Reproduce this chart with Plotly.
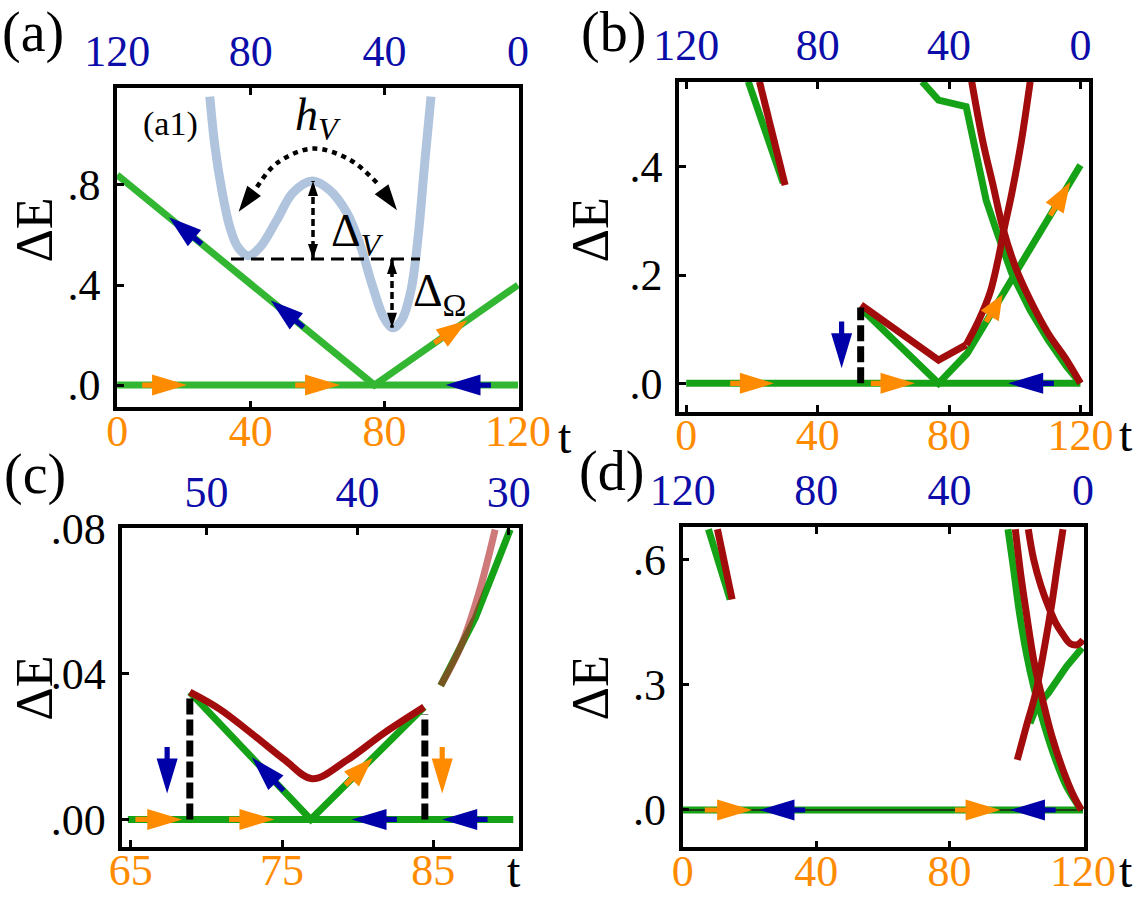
import numpy as np
import plotly.graph_objects as go

# ====================== DATA ======================
# ---- panel (a) ----
a_base_t = [0, 120]
a_base_E = [0, 0]
a_v_t = [0, 77, 120]
a_v_E = [0.84, 0.0, 0.40]

# inset (a1): schematic double-well potential (schematic units)
a1_q = [-1.29, -1.225, -1.14, -1.04, -0.94, -0.81, -0.66, -0.45, -0.25, -0.01, 0.21,
        0.425, 0.59, 0.74, 0.89, 1.0, 1.11, 1.225, 1.31, 1.4, 1.475]
a1_V = [2.03, 1.4, 0.86, 0.40, 0.15, 0.04, 0.15, 0.49, 0.83, 0.975, 0.86,
        0.575, 0.175, -0.325, -0.74, -0.86, -0.76, -0.39, 0.24, 1.24, 2.03]
a1_level_q = [-1.025, 1.3375]
a1_level_V = [0, 0]
a1_dV_q = [0, 0]
a1_dV_V = [0, 0.975]
a1_dO_q = [0.9875, 0.9875]
a1_dO_V = [0, -0.86]
a1_arc_q = [-0.93, -0.70, -0.45, 0.0, 0.46, 0.80, 1.05]
a1_arc_V = [0.59, 0.90, 1.20, 1.38, 1.24, 0.95, 0.61]

# ---- panel (b) ----
b_base_t = [0, 120]
b_base_E = [0, 0]
b_gV_t = [52.9, 76.8, 85.5, 120]
b_gV_E = [0.14, 0.0, 0.055, 0.403]
b_gL_t = [18.9, 29.5]
b_gL_E = [0.557, 0.37]
b_gR_t = [71.8, 76.8, 85.2, 88.0, 91.3, 94.7, 99.1, 104.7, 110.2, 115.8, 120]
b_gR_E = [0.557, 0.523, 0.511, 0.431, 0.338, 0.277, 0.203, 0.135, 0.080, 0.031, 0.0]
b_rL_t = [22.3, 30.1]
b_rL_E = [0.557, 0.366]
b_rV_t = [53.2, 76.8, 85.2]
b_rV_E = [0.145, 0.043, 0.071]
b_rUp_t = [85.2, 89.1, 92.4, 94.7, 96.9, 99.1, 101.9, 104.7]
b_rUp_E = [0.071, 0.117, 0.166, 0.222, 0.289, 0.351, 0.443, 0.557]
b_rR_t = [86.9, 90.2, 93.5, 96.3, 100.2, 104.7, 110.2, 115.8, 120]
b_rR_E = [0.557, 0.449, 0.363, 0.289, 0.215, 0.154, 0.092, 0.043, 0.0]
b_jump_t = [53.1, 53.1]
b_jump_E = [0.0, 0.14]

# ---- panel (c) ----
c_base_t = [64.8, 90.3]
c_base_E = [0, 0]
c_gV_t = [68.9, 76.9, 84.4]
c_gV_E = [0.035, 0.0, 0.0309]
c_rV_t = [68.9, 70.85, 73.3, 75.2, 77.0, 79.3, 81.7, 84.4]
c_rV_E = [0.035, 0.0304, 0.0226, 0.0163, 0.0112, 0.0163, 0.0236, 0.0309]
c_gU_t = [85.5, 87.8, 90.1]
c_gU_E = [0.0368, 0.0555, 0.0797]
c_rU_t = [85.5, 86.8, 88.0, 89.1]
c_rU_E = [0.0368, 0.0473, 0.0619, 0.0797]
c_jump1_t = [68.9, 68.9]
c_jump1_E = [0.0, 0.034]
c_jump2_t = [84.45, 84.45]
c_jump2_E = [0.0, 0.029]

# ---- panel (d) ----
d_base_t = [0, 120]
d_base_E = [0, 0]
d_gL_t = [7.7, 14.2]
d_gL_E = [0.672, 0.504]
d_gD_t = [97.5, 99.2, 100.8, 103.0, 105.2, 108.5, 111.8, 115.1, 119.5]
d_gD_E = [0.672, 0.576, 0.48, 0.376, 0.296, 0.2, 0.12, 0.056, 0.0]
d_gR_t = [104.1, 106.1, 109.6, 115.1, 119.7]
d_gR_E = [0.208, 0.247, 0.28, 0.344, 0.388]
d_r1_t = [10.4, 14.8]
d_r1_E = [0.672, 0.504]
d_r2_t = [99.7, 101.4, 103.0, 105.2, 107.4, 110.7, 114.0, 117.3, 119.5]
d_r2_E = [0.672, 0.56, 0.472, 0.36, 0.28, 0.176, 0.096, 0.032, 0.0]
d_r3_t = [103.6, 105.2, 107.4, 109.6, 111.8, 114.0, 116.2, 118.4, 120.0]
d_r3_E = [0.672, 0.6, 0.536, 0.488, 0.448, 0.42, 0.398, 0.396, 0.407]
d_r4_t = [100.3, 103.0, 105.8, 108.5, 110.7, 112.3, 114.0]
d_r4_E = [0.12, 0.2, 0.28, 0.392, 0.496, 0.584, 0.672]

# arrows along curves: (t_tail, t_tip)
a_arrows_base_fwd = [(7.5, 20.9), (53.3, 66.7)]
a_arrows_base_back = [(111.9, 98.3)]
a_arrows_v_back = [(25.3, 15.5), (55.8, 46.0)]
a_arrows_v_fwd = [(95.0, 104.9)]
b_arrows_base_fwd = [(13.4, 26.7), (56.2, 69.6)]
b_arrows_base_back = [(111.9, 98.0)]
b_arrows_v_fwd = [(91.3, 96.3), (110.8, 116.9)]
b_down_t, b_down_E = 47.3, (0.114, 0.028)
c_arrows_base_fwd = [(65.3, 68.4), (71.5, 74.5)]
c_arrows_base_back = [(82.6, 79.6), (88.6, 85.6)]
c_arrows_v_back = [(75.1, 73.0)]
c_arrows_v_fwd = [(79.2, 81.0)]
c_down_blue_t, c_down_E = 67.4, (0.0199, 0.0071)
c_down_orange_t = 85.6
d_arrows_base_fwd = [(6.6, 20.8), (81.6, 95.3)]
d_arrows_base_back = [(36.7, 23.0), (111.8, 98.1)]

# tick labels
bottom_ticks = {1: [0, 40, 80, 120], 2: [0, 40, 80, 120], 3: [65, 75, 85], 4: [0, 40, 80, 120]}
top_ticks = {1: [120, 80, 40, 0], 2: [120, 80, 40, 0], 3: [50, 40, 30], 4: [120, 80, 40, 0]}
left_ticks = {1: [0, 0.4, 0.8], 2: [0, 0.2, 0.4], 3: [0, 0.04, 0.08], 4: [0, 0.3, 0.6]}
left_text = {1: [".0", ".4", ".8"], 2: [".0", ".2", ".4"], 3: [".00", ".04", ".08"], 4: [".0", ".3", ".6"]}

# ====================== STYLE / LAYOUT ======================
W, H = 1146, 917
FONT = "Liberation Serif, Times New Roman, serif"
GREEN = "#16a216"
GREEN_A = "#33b733"
RED = "#a30c0c"
RED_LIGHT = "rgba(178,40,40,0.62)"
BLUE = "#0000a8"
ORANGE = "#ff8c00"
TICK_BLUE = "#0c0ca8"
POT = "#b0c4de"
LW = 7

BOX = {1: (117.0, 87.7, 519.0, 407.3), 2: (679.0, 81.7, 1089.0, 411.7),
       3: (122.4, 528.3, 519.0, 846.7), 4: (682.6, 526.7, 1084.0, 847.3)}
XR = {1: [-0.05, 120.3], 2: [-2.2, 122.6], 3: [64.44, 90.68], 4: [-0.05, 120.3]}
YR = {1: [-0.089, 1.189], 2: [-0.0524, 0.557], 3: [-0.0075, 0.08005], 4: [-0.0893, 0.678]}
INSET_BOX = (180.0, 80.0, 440.0, 350.0)
INSET_XR = [-1.6625, 1.5875]
INSET_YR = [-1.1375, 2.2375]


def dom(box):
    l, t, r, b = box
    return [l / W, r / W], [1 - b / H, 1 - t / H]


def scale(box, xr, yr):
    l, t, r, b = box
    return (r - l) / (xr[1] - xr[0]), (b - t) / (yr[1] - yr[0])


def ax_ids(p):
    return ("x" if p == 1 else f"x{p}"), ("y" if p == 1 else f"y{p}")


fig = go.Figure()
shapes = []


def line(p, t, e, color, width=LW, dash=None, shape="linear", xa=None, ya=None):
    x_id, y_id = ax_ids(p) if xa is None else (xa, ya)
    fig.add_trace(go.Scatter(x=t, y=e, mode="lines", xaxis=x_id, yaxis=y_id,
                             line=dict(color=color, width=width, dash=dash, shape=shape),
                             showlegend=False, hoverinfo="skip"))


def arrow_shape(x_id, y_id, sx, sy, x0, y0, x1, y1, color, head_len=35, head_w=21, shaft_w=5.2,
                head_only=False):
    dx = (x1 - x0) * sx
    dy = (y1 - y0) * sy
    L = float(np.hypot(dx, dy))
    ux, uy = dx / L, dy / L
    nx, ny = -uy, ux
    hl = head_len if head_only else min(head_len, 0.78 * L)
    bx, by = -hl * ux, -hl * uy
    if head_only:
        pts = [(bx + nx * head_w / 2, by + ny * head_w / 2), (0, 0),
               (bx - nx * head_w / 2, by - ny * head_w / 2)]
    else:
        tx, ty = -L * ux, -L * uy
        sw = shaft_w / 2
        pts = [(tx + nx * sw, ty + ny * sw), (bx + nx * sw, by + ny * sw),
               (bx + nx * head_w / 2, by + ny * head_w / 2), (0, 0),
               (bx - nx * head_w / 2, by - ny * head_w / 2),
               (bx - nx * sw, by - ny * sw), (tx - nx * sw, ty - ny * sw)]
    path = "M " + " L ".join(f"{x:.2f},{y:.2f}" for x, y in pts) + " Z"
    shapes.append(dict(type="path", xref=x_id, yref=y_id, xsizemode="pixel", ysizemode="pixel",
                       xanchor=x1, yanchor=y1, path=path, fillcolor=color,
                       line=dict(width=0), layer="above"))


def curve_arrow(p, curve_t, curve_e, tail, tip, color):
    x_id, y_id = ax_ids(p)
    sx, sy = scale(BOX[p], XR[p], YR[p])
    e0 = float(np.interp(tail, curve_t, curve_e))
    e1 = float(np.interp(tip, curve_t, curve_e))
    arrow_shape(x_id, y_id, sx, sy, tail, e0, tip, e1, color)


def vert_arrow(p, t, e_tail, e_tip, color):
    x_id, y_id = ax_ids(p)
    sx, sy = scale(BOX[p], XR[p], YR[p])
    arrow_shape(x_id, y_id, sx, sy, t, e_tail, t, e_tip, color)


# ---------------- panel (a) ----------------
line(1, a_base_t, a_base_E, GREEN_A)
line(1, a_v_t, a_v_E, GREEN_A)
for tl, tp in a_arrows_base_fwd:
    curve_arrow(1, a_base_t, a_base_E, tl, tp, ORANGE)
for tl, tp in a_arrows_base_back:
    curve_arrow(1, a_base_t, a_base_E, tl, tp, BLUE)
for tl, tp in a_arrows_v_back:
    curve_arrow(1, a_v_t, a_v_E, tl, tp, BLUE)
for tl, tp in a_arrows_v_fwd:
    curve_arrow(1, a_v_t, a_v_E, tl, tp, ORANGE)

# inset (a1)
line(None, a1_q, a1_V, POT, width=9, shape="spline", xa="x9", ya="y9")
line(None, a1_level_q, a1_level_V, "black", width=3, dash="13px,7px", xa="x9", ya="y9")
line(None, a1_dV_q, a1_dV_V, "black", width=3.5, dash="7px,4px", xa="x9", ya="y9")
line(None, a1_dO_q, a1_dO_V, "black", width=3.5, dash="7px,4px", xa="x9", ya="y9")
line(None, a1_arc_q[1:-1], a1_arc_V[1:-1], "black", width=4.5, dash="5px,5px", shape="spline",
     xa="x9", ya="y9")
isx, isy = scale(INSET_BOX, INSET_XR, INSET_YR)
arrow_shape("x9", "y9", isx, isy, a1_dV_q[0], 0.5, a1_dV_q[1], a1_dV_V[1], "black", 15, 10, head_only=True)
arrow_shape("x9", "y9", isx, isy, a1_dV_q[0], 0.5, a1_dV_q[0], a1_dV_V[0], "black", 15, 10, head_only=True)
arrow_shape("x9", "y9", isx, isy, a1_dO_q[0], -0.4, a1_dO_q[0], a1_dO_V[0], "black", 15, 10, head_only=True)
arrow_shape("x9", "y9", isx, isy, a1_dO_q[0], -0.4, a1_dO_q[1], a1_dO_V[1], "black", 15, 10, head_only=True)
arrow_shape("x9", "y9", isx, isy, a1_arc_q[1], a1_arc_V[1], a1_arc_q[0], a1_arc_V[0], "black", 26, 17,
            head_only=True)
arrow_shape("x9", "y9", isx, isy, a1_arc_q[-2], a1_arc_V[-2], a1_arc_q[-1], a1_arc_V[-1], "black", 26, 17,
            head_only=True)

# ---------------- panel (b) ----------------
line(2, b_base_t, b_base_E, GREEN)
line(2, b_gV_t, b_gV_E, GREEN)
line(2, b_gL_t, b_gL_E, GREEN)
line(2, b_gR_t, b_gR_E, GREEN)
line(2, b_rL_t, b_rL_E, RED)
line(2, b_rV_t, b_rV_E, RED)
line(2, b_rUp_t, b_rUp_E, RED, shape="spline")
line(2, b_rR_t, b_rR_E, RED, shape="spline")
line(2, b_jump_t, b_jump_E, "black", width=7, dash="16px,5px")
for tl, tp in b_arrows_base_fwd:
    curve_arrow(2, b_base_t, b_base_E, tl, tp, ORANGE)
for tl, tp in b_arrows_base_back:
    curve_arrow(2, b_base_t, b_base_E, tl, tp, BLUE)
for tl, tp in b_arrows_v_fwd:
    curve_arrow(2, b_gV_t, b_gV_E, tl, tp, ORANGE)
vert_arrow(2, b_down_t, b_down_E[0], b_down_E[1], BLUE)

# ---------------- panel (c) ----------------
line(3, c_base_t, c_base_E, GREEN)
line(3, c_gV_t, c_gV_E, GREEN)
line(3, c_gU_t, c_gU_E, GREEN)
line(3, c_rV_t, c_rV_E, RED, shape="spline")
line(3, c_rU_t, c_rU_E, RED_LIGHT, shape="spline")
line(3, c_jump1_t, c_jump1_E, "black", width=7, dash="16px,5px")
line(3, c_jump2_t, c_jump2_E, "black", width=7, dash="16px,5px")
for tl, tp in c_arrows_base_fwd:
    curve_arrow(3, c_base_t, c_base_E, tl, tp, ORANGE)
for tl, tp in c_arrows_base_back:
    curve_arrow(3, c_base_t, c_base_E, tl, tp, BLUE)
for tl, tp in c_arrows_v_back:
    curve_arrow(3, c_gV_t, c_gV_E, tl, tp, BLUE)
for tl, tp in c_arrows_v_fwd:
    curve_arrow(3, c_gV_t, c_gV_E, tl, tp, ORANGE)
vert_arrow(3, c_down_blue_t, c_down_E[0], c_down_E[1], BLUE)
vert_arrow(3, c_down_orange_t, c_down_E[0], c_down_E[1], ORANGE)

# ---------------- panel (d) ----------------
line(4, d_base_t, d_base_E, GREEN)
line(4, d_base_t, d_base_E, "#1f3d14", width=1.8)
line(4, d_gL_t, d_gL_E, GREEN)
line(4, d_gD_t, d_gD_E, GREEN, shape="spline")
line(4, d_gR_t, d_gR_E, GREEN)
line(4, d_r1_t, d_r1_E, RED)
line(4, d_r2_t, d_r2_E, RED, shape="spline")
line(4, d_r3_t, d_r3_E, RED, shape="spline")
line(4, d_r4_t, d_r4_E, RED, shape="spline")
for tl, tp in d_arrows_base_fwd:
    curve_arrow(4, d_base_t, d_base_E, tl, tp, ORANGE)
for tl, tp in d_arrows_base_back:
    curve_arrow(4, d_base_t, d_base_E, tl, tp, BLUE)

# ---------------- axes ----------------
layout = dict(width=W, height=H, margin=dict(l=0, r=0, t=0, b=0, pad=0, autoexpand=False),
              autosize=False, paper_bgcolor="white", plot_bgcolor="rgba(0,0,0,0)",
              showlegend=False)
TF = 44
for p in range(1, 5):
    x_id, y_id = ax_ids(p)
    xd, yd = dom(BOX[p])
    xkey = "xaxis" if p == 1 else f"xaxis{p}"
    ykey = "yaxis" if p == 1 else f"yaxis{p}"
    layout[xkey] = dict(domain=xd, range=XR[p], anchor=y_id, showline=True, mirror=True,
                        linewidth=3.5, linecolor="black", ticks="inside", ticklen=7, tickwidth=2.5,
                        tickcolor="black", tickvals=bottom_ticks[p],
                        ticktext=[str(v) for v in bottom_ticks[p]],
                        tickfont=dict(family=FONT, size=TF, color=ORANGE),
                        showgrid=False, zeroline=False, ticklabelstandoff=-18, automargin=False)
    layout[ykey] = dict(domain=yd, range=YR[p], anchor=x_id, showline=True, mirror=True,
                        linewidth=3.5, linecolor="black", ticks="inside", ticklen=7, tickwidth=2.5,
                        tickcolor="black", tickvals=left_ticks[p], ticktext=left_text[p],
                        tickfont=dict(family=FONT, size=TF, color="black"),
                        showgrid=False, zeroline=False, ticklabelstandoff=4, automargin=False)
    tkey = f"xaxis{p + 4}"
    layout[tkey] = dict(overlaying=x_id, side="top", anchor=y_id,
                        range=[120 - XR[p][0], 120 - XR[p][1]], showline=False,
                        ticks="inside", ticklen=7, tickwidth=2.5, tickcolor="black",
                        tickvals=top_ticks[p], ticktext=[str(v) for v in top_ticks[p]],
                        tickfont=dict(family=FONT, size=TF, color=TICK_BLUE),
                        showgrid=False, zeroline=False, ticklabelstandoff=12, automargin=False)
    fig.add_trace(go.Scatter(x=top_ticks[p], y=[None] * len(top_ticks[p]), xaxis=f"x{p + 4}",
                             yaxis=y_id, mode="markers", showlegend=False, hoverinfo="skip"))

ixd, iyd = dom(INSET_BOX)
layout["xaxis9"] = dict(domain=ixd, range=INSET_XR, anchor="y9", visible=False, showgrid=False,
                        zeroline=False, automargin=False)
layout["yaxis9"] = dict(domain=iyd, range=INSET_YR, anchor="x9", visible=False, showgrid=False,
                        zeroline=False, automargin=False)


def ann(text, px, py, size, color="black", angle=0):
    return dict(text=text, x=px / W, y=1 - py / H, xref="paper", yref="paper", showarrow=False,
                xanchor="center", yanchor="middle", textangle=angle,
                font=dict(family=FONT, size=size, color=color))


annotations = [
    ann("(a)", 33, 33, 56), ann("(b)", 613, 33, 56), ann("(c)", 35, 474, 56), ann("(d)", 611, 471, 56),
    ann("ΔE", 33.6, 230, 52, angle=-90), ann("ΔE", 589.5, 230, 52, angle=-90),
    ann("ΔE", 33.8, 688, 52, angle=-90), ann("ΔE", 589.5, 688, 52, angle=-90),
    ann("t", 565, 436, 48), ann("t", 1126, 434, 48), ann("t", 514, 870, 48), ann("t", 1126, 870, 48),
    ann("(a1)", 170, 124, 34),
    ann("<i>h</i><sub><i>V</i></sub>", 318, 118, 46),
    ann("Δ<sub><i>V</i></sub>", 357, 234, 46),
    ann("Δ<sub>Ω</sub>", 440, 294, 46),
]
layout["annotations"] = annotations
layout["shapes"] = shapes
fig.update_layout(**layout)
fig.write_html("out.html")
